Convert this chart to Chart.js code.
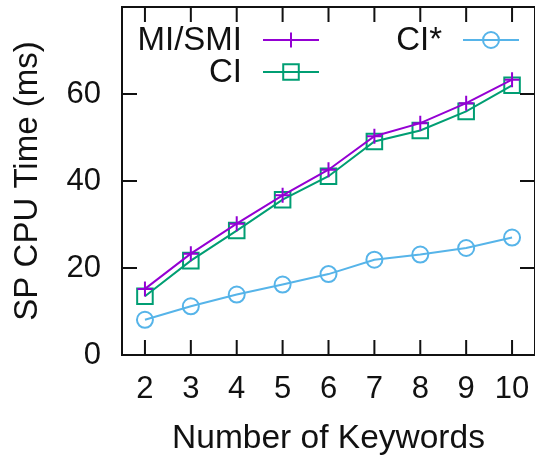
<!DOCTYPE html>
<html>
<head>
<meta charset="utf-8">
<script src="https://cdn.jsdelivr.net/npm/chart.js@4/dist/chart.umd.min.js"></script>
<style>
    html, body { margin: 0; padding: 0; background: #fff; overflow: hidden; }
</style>
</head>
<body>
<canvas id="cpuChart" width="535" height="457"></canvas>
<script>
const keywords = [2, 3, 4, 5, 6, 7, 8, 9, 10];
const miSmi = [15.2, 23.3, 30.2, 36.7, 42.6, 50.3, 53.3, 57.9, 63.3];
const ci = [13.5, 21.7, 28.6, 35.7, 41.1, 49.1, 51.6, 56.0, 62.0];
const ciStar = [8.1, 11.2, 13.9, 16.2, 18.6, 21.9, 23.1, 24.6, 27.0];
const xTicks = [2, 3, 4, 5, 6, 7, 8, 9, 10];
const yTicks = [0, 20, 40, 60];

const FONT = "'Liberation Sans', Arial, sans-serif";
const INK = '#111';

function points(values) {
    return keywords.map((k, i) => ({ x: k, y: values[i] }));
}

// gnuplot style frame with inward ticks on all four sides
const framePlugin = {
    id: 'frame',
    afterDatasetsDraw(chart) {
        const { ctx, chartArea: a, scales } = chart;
        const len = 15;
        ctx.save();
        ctx.strokeStyle = INK;
        ctx.lineWidth = 2;
        ctx.strokeRect(a.left, a.top, a.right - a.left, a.bottom - a.top);
        ctx.beginPath();
        xTicks.forEach(v => {
            const px = scales.x.getPixelForValue(v);
            ctx.moveTo(px, a.bottom); ctx.lineTo(px, a.bottom - len);
            ctx.moveTo(px, a.top); ctx.lineTo(px, a.top + len);
        });
        yTicks.forEach(v => {
            if (v === 0) return;
            const py = scales.y.getPixelForValue(v);
            ctx.moveTo(a.left, py); ctx.lineTo(a.left + len, py);
            ctx.moveTo(a.right, py); ctx.lineTo(a.right - len, py);
        });
        ctx.stroke();
        ctx.restore();
    }
};

function drawMarker(ctx, style, x, y, r) {
    ctx.beginPath();
    if (style === 'cross') {
        ctx.moveTo(x - r, y); ctx.lineTo(x + r, y);
        ctx.moveTo(x, y - r); ctx.lineTo(x, y + r);
    } else if (style === 'rect') {
        const s = r * Math.SQRT1_2;
        ctx.rect(x - s, y - s, 2 * s, 2 * s);
    } else {
        ctx.arc(x, y, r, 0, Math.PI * 2);
    }
    ctx.stroke();
}

// two-column key: label right-aligned, sample to its right
const keyPlugin = {
    id: 'key',
    afterDraw(chart) {
        const { ctx } = chart;
        const slots = [
            { ds: 0, textRight: 242, lineX: 263, y: 40 },
            { ds: 1, textRight: 242, lineX: 263, y: 72 },
            { ds: 2, textRight: 442, lineX: 463, y: 40 }
        ];
        ctx.save();
        ctx.font = '33px ' + FONT;
        ctx.textAlign = 'right';
        ctx.textBaseline = 'middle';
        slots.forEach(s => {
            const ds = chart.data.datasets[s.ds];
            ctx.fillStyle = INK;
            ctx.fillText(ds.label, s.textRight, s.y + 1);
            ctx.strokeStyle = ds.borderColor;
            ctx.lineWidth = 2;
            ctx.beginPath();
            ctx.moveTo(s.lineX, s.y);
            ctx.lineTo(s.lineX + 56, s.y);
            ctx.stroke();
            drawMarker(ctx, ds.pointStyle, s.lineX + 28, s.y, ds.pointRadius);
        });
        ctx.restore();
    }
};

new Chart(document.getElementById('cpuChart'), {
    type: 'line',
    data: {
        datasets: [
            { label: 'MI/SMI', data: points(miSmi), borderColor: '#9400d3', pointStyle: 'cross', pointRadius: 7.5 },
            { label: 'CI', data: points(ci), borderColor: '#009e73', pointStyle: 'rect', pointRadius: 11 },
            { label: 'CI*', data: points(ciStar), borderColor: '#56b4e9', pointStyle: 'circle', pointRadius: 8 }
        ].map(d => Object.assign(d, {
            borderWidth: 2,
            tension: 0,
            fill: false,
            pointBorderColor: d.borderColor,
            pointBackgroundColor: 'rgba(0,0,0,0)',
            pointBorderWidth: 2,
            pointHoverRadius: d.pointRadius
        }))
    },
    options: {
        responsive: false,
        animation: false,
        layout: { autoPadding: false, padding: { top: 7, right: -2, left: 0, bottom: 0 } },
        plugins: { legend: { display: false }, tooltip: { enabled: false } },
        scales: {
            x: {
                type: 'linear',
                min: 1.5,
                max: 10.5,
                afterBuildTicks: s => { s.ticks = xTicks.map(v => ({ value: v })); },
                afterFit: s => { s.height = 102; s.paddingLeft = 0; s.paddingRight = 0; },
                grid: { display: false, drawTicks: false },
                border: { display: false },
                ticks: { color: INK, font: { family: FONT, size: 31 }, padding: 16, maxRotation: 0, autoSkip: false },
                title: { display: true, text: 'Number of Keywords', color: INK, font: { family: FONT, size: 33.5, lineHeight: 1 }, padding: { top: 0, bottom: 1 } }
            },
            y: {
                min: 0,
                max: 80,
                afterBuildTicks: s => { s.ticks = yTicks.map(v => ({ value: v })); },
                afterFit: s => { s.width = 122; s.paddingTop = 0; s.paddingBottom = 0; },
                grid: { display: false, drawTicks: false },
                border: { display: false },
                ticks: { color: INK, font: { family: FONT, size: 31 }, padding: 21 },
                title: { display: true, text: 'SP CPU Time (ms)', color: INK, font: { family: FONT, size: 33 }, padding: 8 }
            }
        }
    },
    plugins: [framePlugin, keyPlugin]
});
</script>
</body>
</html>
